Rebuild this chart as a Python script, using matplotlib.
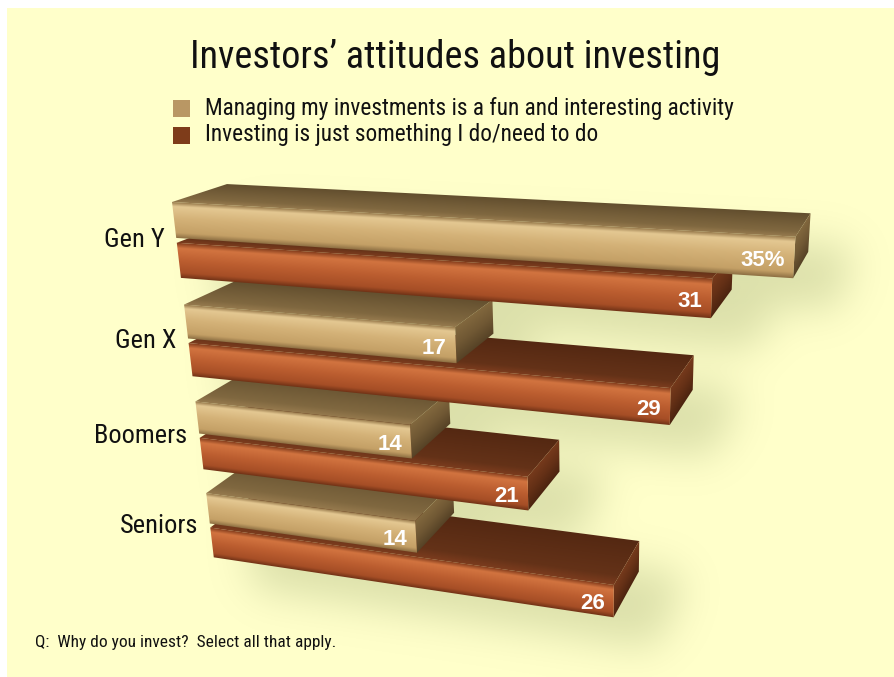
import matplotlib.pyplot as plt
import numpy as np
from matplotlib.patches import Polygon, Rectangle
from matplotlib.path import Path

groups = ["Gen Y", "Gen X", "Boomers", "Seniors"]
fun_pct = [35, 17, 14, 14]
need_pct = [31, 29, 21, 26]
legend_labels = ["Managing my investments is a fun and interesting activity",
                 "Investing is just something I do/need to do"]
title = "Investors\u2019 attitudes about investing"
note = "Q:  Why do you invest?  Select all that apply."

W, H = 894, 677
NARROW = ["Roboto Condensed", "DejaVu Sans"]
BOLD = ["Liberation Sans", "DejaVu Sans"]
PANEL = "#FFFFCA"

# perspective camera: image of the world origin and the three vanishing points
ORIGIN = np.array([172.0, 202.0, 1.0])
VX = -0.00412 * np.array([-3528.0, -4.0, 1.0])
VY = 0.072 * np.array([990.0, -65.0, 1.0])
VZ = -0.00917 * np.array([595.0, 3800.0, 1.0])
VMAT = np.column_stack([VX, VY, VZ])

DEPTH = 1.0
THICK = 1.1
PAIR_GAP = 1.25
GROUP_STEP = 3.2

# colour ramps across each face (position, rgb)
LIGHT = {
    "front": [(0.0, (150, 120, 74)), (0.12, (228, 200, 146)), (0.45, (212, 178, 120)),
              (0.85, (196, 160, 102)), (1.0, (140, 110, 66))],
    "top": [(0.0, (98, 78, 46)), (0.8, (128, 104, 64)), (1.0, (150, 122, 78))],
    "side": [(0.0, (130, 104, 62)), (0.5, (112, 88, 52)), (1.0, (86, 66, 38))],
}
DARK = {
    "front": [(0.0, (130, 60, 28)), (0.15, (210, 116, 64)), (0.5, (188, 94, 48)),
              (0.85, (166, 78, 38)), (1.0, (112, 50, 22))],
    "top": [(0.0, (84, 40, 18)), (0.8, (100, 50, 24)), (1.0, (124, 60, 30))],
    "side": [(0.0, (118, 58, 28)), (0.5, (100, 48, 22)), (1.0, (76, 36, 16))],
}
LEGEND_COLORS = ["#B99764", "#7E3C1A"]


def project(x, y, z):
    p = ORIGIN + VMAT @ np.array([x, y, z], dtype=float)
    return p[0] / p[2], p[1] / p[2]


def ramp(stops, t):
    pos = [s[0] for s in stops]
    return np.stack([np.interp(t, pos, [s[1][i] / 255 for s in stops]) for i in range(3)], axis=-1)


def shaded_face(ax, p0, es, et, stops, zorder):
    """Fill the planar face p0 + s*es + t*et (s, t in [0, 1]) with a ramp along t."""
    p0, es, et = (np.asarray(a, dtype=float) for a in (p0, es, et))
    corners = [project(*(p0 + a * es + b * et)) for a, b in [(0, 0), (1, 0), (1, 1), (0, 1)]]
    xs, ys = zip(*corners)
    x0, x1 = np.floor(min(xs)) - 1, np.ceil(max(xs)) + 1
    y0, y1 = np.floor(min(ys)) - 1, np.ceil(max(ys)) + 1
    gx, gy = np.meshgrid(np.arange(x0, x1, 0.5) + 0.25, np.arange(y0, y1, 0.5) + 0.25)
    m = np.column_stack([VMAT @ es, VMAT @ et, ORIGIN + VMAT @ p0])
    st = np.linalg.solve(m, np.stack([gx.ravel(), gy.ravel(), np.ones(gx.size)]))
    t = np.clip(st[1] / st[2], 0, 1).reshape(gx.shape)
    img = ramp(stops, t)
    im = ax.imshow(img, extent=[x0, x1, y1, y0], interpolation="bilinear",
                   zorder=zorder, aspect="auto")
    poly = Polygon(corners, closed=True, fc="none", ec="none")
    ax.add_patch(poly)
    im.set_clip_path(poly)


def bar_outline(v, zt):
    zb = zt - THICK
    pts = [(0, 0, zb), (0, 0, zt), (0, DEPTH, zt), (v, DEPTH, zt), (v, DEPTH, zb), (v, 0, zb)]
    return [project(*p) for p in pts]


def draw_bar(ax, v, zt, look, zorder):
    shaded_face(ax, (0, DEPTH, zt), (v, 0, 0), (0, -DEPTH, 0), look["top"], zorder)
    shaded_face(ax, (v, 0, zt), (0, DEPTH, 0), (0, 0, -THICK), look["side"], zorder)
    shaded_face(ax, (0, 0, zt), (v, 0, 0), (0, 0, -THICK), look["front"], zorder)


fig = plt.figure(figsize=(W / 100, H / 100), dpi=100, facecolor="white")
ax = fig.add_axes([0, 0, 1, 1])
ax.add_patch(Rectangle((7, 8), W - 7, H - 8, fc=PANEL, ec="none", zorder=0))

# bar list: (value, top z, look, label)
bars = []
for g in range(len(groups)):
    zt = -g * GROUP_STEP
    bars.append((fun_pct[g], zt, LIGHT, f"{fun_pct[g]}%" if g == 0 else str(fun_pct[g])))
    bars.append((need_pct[g], zt - PAIR_GAP, DARK, str(need_pct[g])))

# soft shadow cast down and to the right of the bars
sx, sy = np.meshgrid(np.arange(0, W, 2) + 1.0, np.arange(0, H, 2) + 1.0)
grid = np.column_stack([sx.ravel(), sy.ravel()])
mask = np.zeros(sx.shape)
for v, zt, look, _ in bars:
    outline = np.array(bar_outline(v, zt)) + np.array([40.0, 32.0])
    mask = np.maximum(mask, Path(outline).contains_points(grid).reshape(sx.shape))
k = np.exp(-0.5 * (np.arange(-30, 31) / 10.0) ** 2)
k /= k.sum()
mask = np.apply_along_axis(lambda r: np.convolve(r, k, mode="same"), 1, mask)
mask = np.apply_along_axis(lambda c: np.convolve(c, k, mode="same"), 0, mask)
shadow = np.zeros(mask.shape + (4,))
shadow[..., :3] = np.array([130, 145, 90]) / 255
shadow[..., 3] = 0.28 * mask
ax.imshow(shadow, extent=[0, W, H, 0], interpolation="bilinear", zorder=1, aspect="auto")

for i, (v, zt, look, label) in enumerate(reversed(bars)):
    z = 10 + i
    draw_bar(ax, v, zt, look, z)
    lx, ly = project(v, 0, zt - THICK * 0.58)
    ax.text(lx - 9, ly, label, ha="right", va="center", color="white",
            fontsize=16, fontweight="bold", family=BOLD, zorder=z)

for g, name in enumerate(groups):
    zmid = -g * GROUP_STEP - (THICK + PAIR_GAP) / 2
    cx, cy = project(0, 0, zmid)
    ax.text(cx - 12, cy, name, ha="right", va="center", fontsize=19,
            family=NARROW, color="#111111", zorder=30)

ax.text(455, 57, title, ha="center", va="center", fontsize=27.5, family=NARROW,
        color="#111111", zorder=30)
for i, (lab, col) in enumerate(zip(legend_labels, LEGEND_COLORS)):
    y = 108 + 27 * i
    ax.add_patch(Rectangle((173, y - 8), 17, 17, fc=col, ec="none", zorder=30))
    ax.text(205, y, lab, ha="left", va="center", fontsize=16.8, family=NARROW,
            color="#111111", zorder=30)

ax.text(35, 643, note, ha="left", va="center", fontsize=12.5, family=NARROW,
        color="#111111", zorder=30)

ax.set_xlim(0, W)
ax.set_ylim(H, 0)
ax.axis("off")
fig.savefig("out.png", dpi=100, facecolor="white")
